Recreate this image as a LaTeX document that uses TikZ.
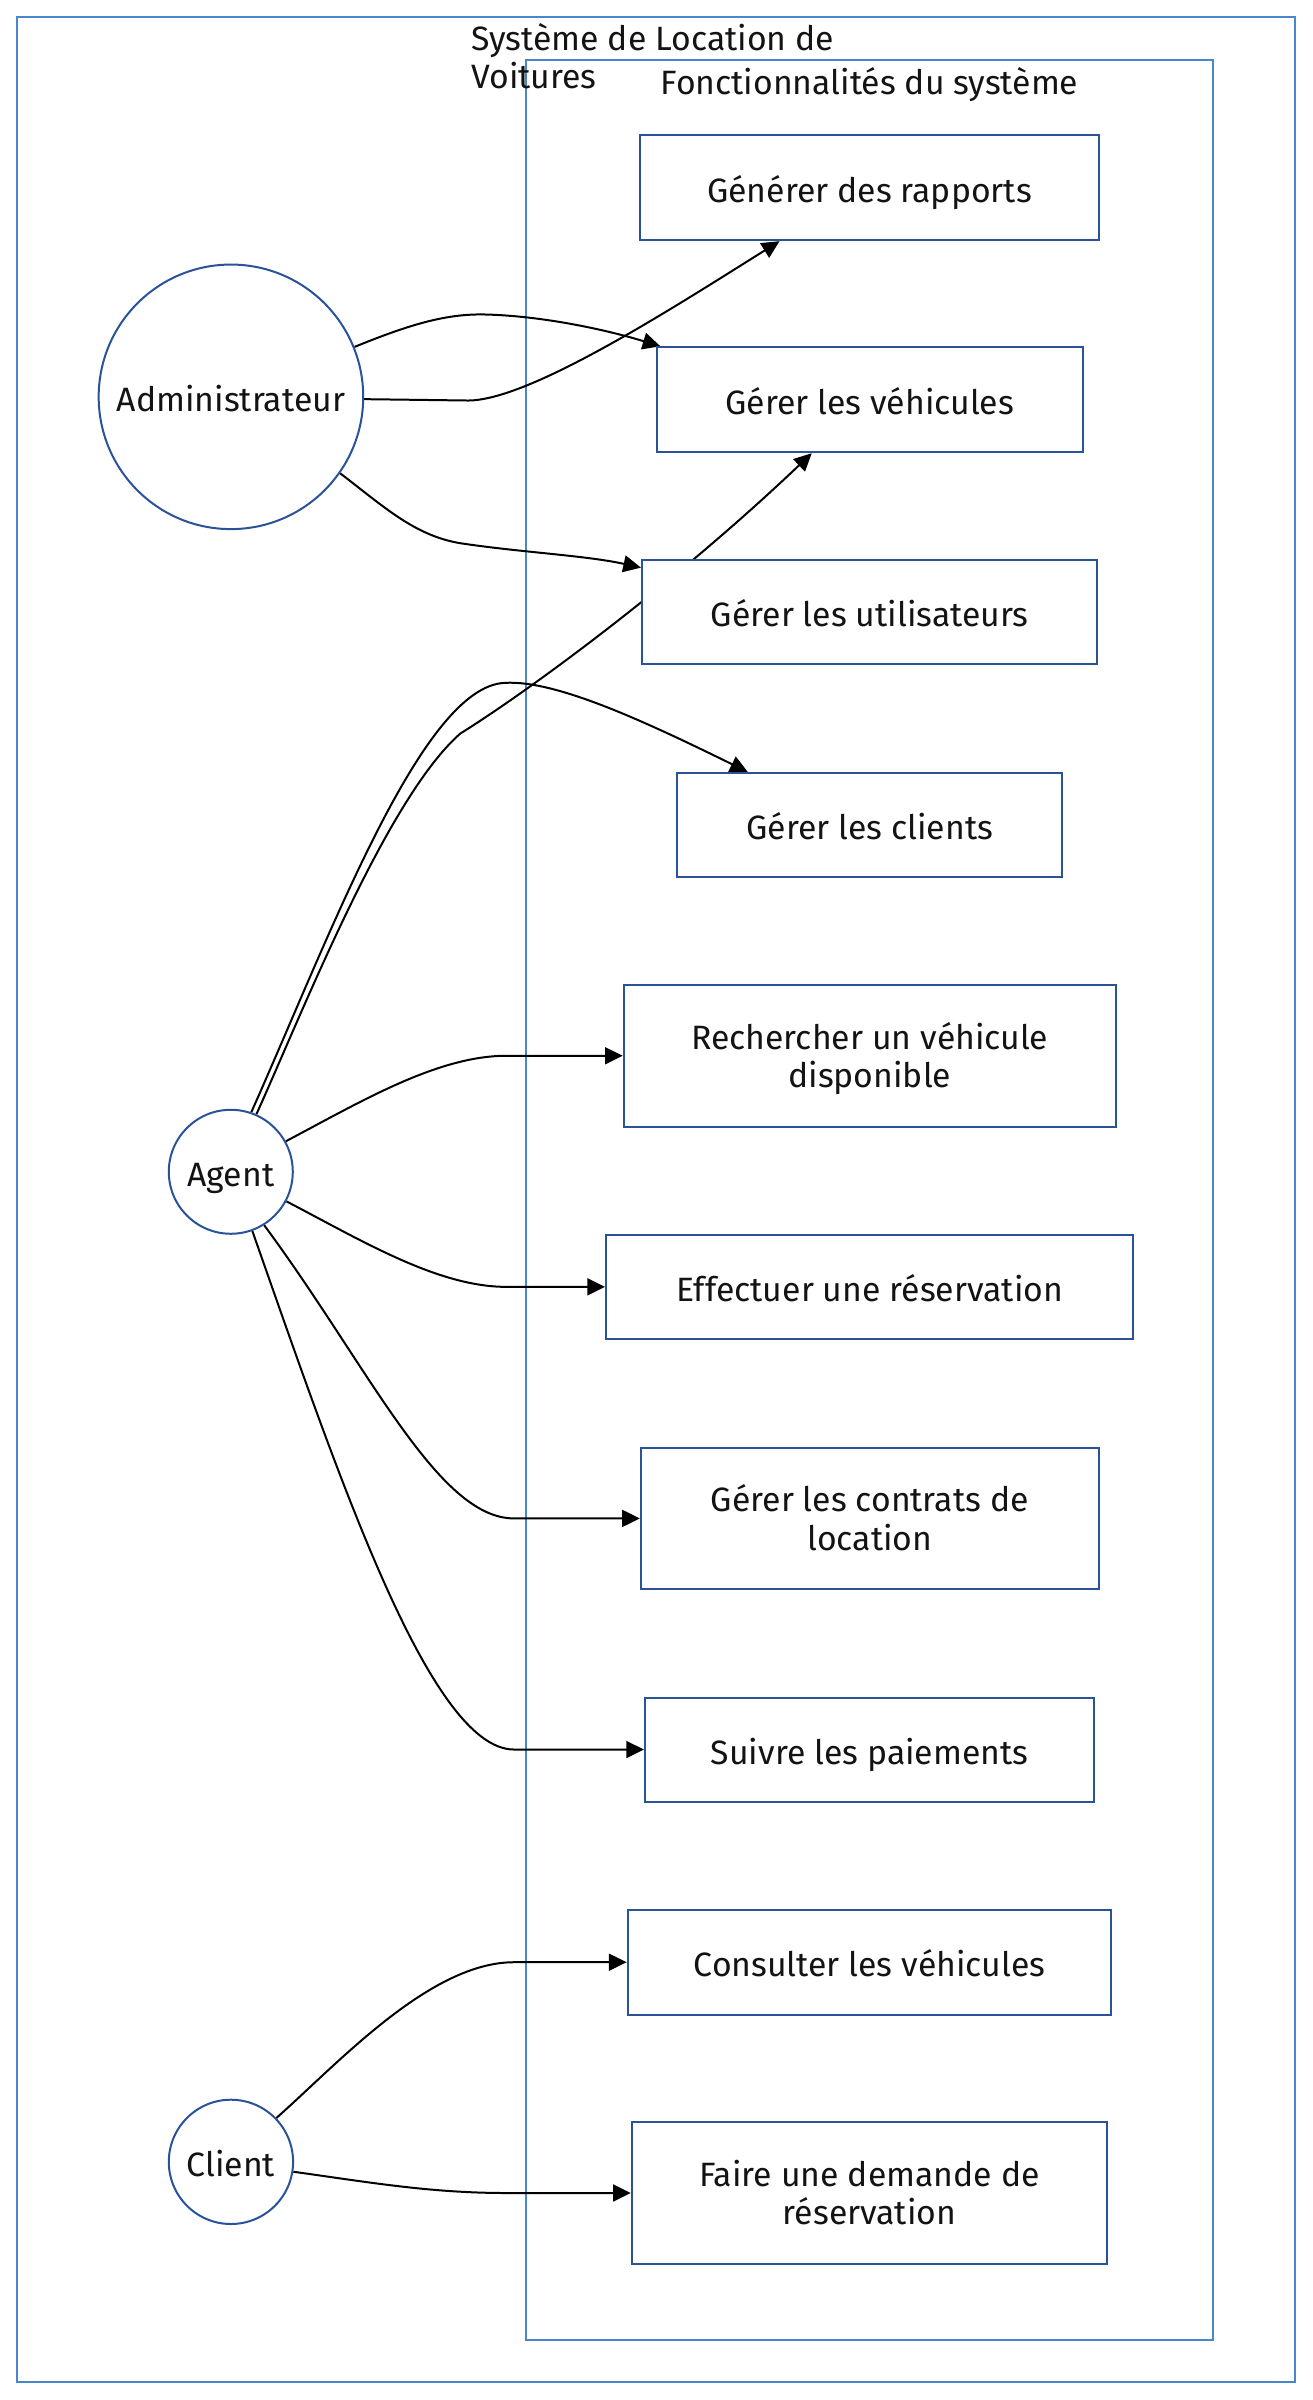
\documentclass[tikz,border=0pt]{standalone}
\usepackage{fontspec}
\setmainfont{Fira Sans}
\usetikzlibrary{arrows.meta,calc}
\definecolor{frameblue}{RGB}{74,134,204}
\definecolor{boxblue}{RGB}{42,82,152}
\definecolor{txt}{RGB}{19,19,19}
\pgfdeclarelayer{bg}
\pgfdeclarelayer{edges}
\pgfsetlayers{bg,edges,main}
\tikzset{
  lbl/.style={font=\fontsize{22}{25}\selectfont, text=txt},
  oneline/.style={text height=19pt, text depth=0pt},
  twoline/.style={text height=41.2pt, text depth=0pt},
  ucbox/.style={lbl, draw=boxblue, line width=1.3pt, fill=white, inner sep=0pt, align=center},
  actor/.style={lbl, oneline, circle, draw=boxblue, line width=1.3pt, fill=white, inner sep=0pt},
  frame/.style={draw=frameblue, line width=1.2pt},
  link/.style={draw=black, line width=1.3pt, -{Triangle[length=11.5pt,width=11pt]}},
}
\begin{document}
\begin{tikzpicture}[x=1pt,y=-1pt]
\useasboundingbox (0,0) rectangle (855,1564);
% actors
\node[actor, minimum size=172.4pt] (admin) at (150.5,258.6) {Administrateur};
\node[actor, minimum size=80.8pt] (agent) at (150.4,763.6) {Agent};
\node[actor, minimum size=81pt] (client) at (150.5,1408.8) {Client};
% use cases
\node[ucbox, oneline, minimum width=298.8pt, minimum height=68.6pt] (b1) at (566.6,122.2) {Générer des rapports};
\node[ucbox, oneline, minimum width=277.6pt, minimum height=68.4pt] (b2) at (566.8,260.5) {Gérer les véhicules};
\node[ucbox, oneline, minimum width=296.7pt, minimum height=68.1pt] (b3) at (566.7,398.9) {Gérer les utilisateurs};
\node[ucbox, oneline, minimum width=250.9pt, minimum height=67.8pt] (b4) at (566.8,537.6) {Gérer les clients};
\node[ucbox, twoline, minimum width=320.7pt, minimum height=92.3pt] (b5) at (566.8,688) {Rechercher un véhicule\\disponible};
\node[ucbox, oneline, minimum width=343.7pt, minimum height=67.4pt] (b6) at (566.8,838.6) {Effectuer une réservation};
\node[ucbox, twoline, minimum width=298.4pt, minimum height=91.7pt] (b7) at (566.8,989.5) {Gérer les contrats de\\location};
\node[ucbox, oneline, minimum width=292.8pt, minimum height=67.8pt] (b8) at (566.7,1140.1) {Suivre les paiements};
\node[ucbox, oneline, minimum width=315.2pt, minimum height=68.7pt] (b9) at (566.6,1278.7) {Consulter les véhicules};
\node[ucbox, twoline, minimum width=309.8pt, minimum height=93pt] (b10) at (566.6,1429.1) {Faire une demande de\\réservation};
% frames and titles
\begin{pgfonlayer}{bg}
\draw[frame] (10.9,11) rectangle (843.7,1552.5);
\draw[frame] (342.5,39) rectangle (790.7,1525);
\end{pgfonlayer}
\node[lbl, anchor=base west, align=left, inner sep=0pt] (title) at (307,57.6) {Système de Location de\\Voitures};
\node[lbl, anchor=base, inner sep=0pt] (subtitle) at (566.6,61.7) {Fonctionnalités du système};
% connectors
\begin{pgfonlayer}{edges}
\draw[link] (admin.-1) -- (305,261) .. controls (345,261) and (438,201) .. ($(b1.south)+(-58.6,0)$);
\draw[link] (admin.22) .. controls (268,211) and (292,204) .. (318,205) .. controls (352,206) and (392,214) .. ($(b2.north west)+(3,0)$);
\draw[link] (admin.-35) .. controls (250,330) and (270,349) .. (300,354) .. controls (340,360) and (382,362) .. ($(b3.north west)+(0,5.7)$);
\draw[link] (agent.66) .. controls (197,660) and (252,520) .. (300,478) .. controls (345,450) and (440,380) .. ($(b2.south)+(-37.8,0)$);
\draw[link] (agent.71) .. controls (215,610) and (275,447) .. (329,445) .. controls (362,443) and (420,470) .. ($(b4.north)+(-79.5,0)$);
\draw[link] (agent.29) .. controls (235,718) and (285,688) .. (330,688) -- (b5.west);
\draw[link] (agent.-28) .. controls (235,808) and (285,838.6) .. (330,838.6) -- (b6.west);
\draw[link] (agent.-58) .. controls (240,890) and (285,989.5) .. (335,989.5) -- (b7.west);
\draw[link] (agent.-70) .. controls (220,960) and (280,1140.1) .. (335,1140.1) -- (b8.west);
\draw[link] (client.44) .. controls (220,1345) and (280,1278.7) .. (335,1278.7) -- (b9.west);
\draw[link] (client.-9) .. controls (240,1422) and (280,1429.1) .. (330,1429.1) -- (b10.west);
\end{pgfonlayer}
\end{tikzpicture}
\end{document}
